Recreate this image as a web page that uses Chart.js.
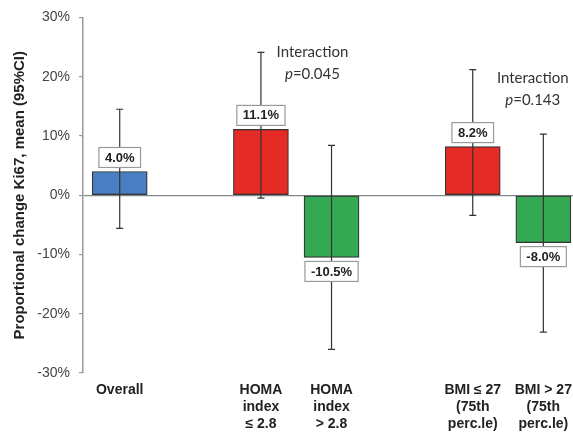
<!DOCTYPE html>
<html>
<head>
    <title>Ki67 proportional change</title>
    <script src="https://cdn.jsdelivr.net/npm/chart.js"></script>
    <style>
        html, body { margin: 0; padding: 0; background: #fff; }
        #wrap { width: 573px; height: 433px; }
    </style>
</head>
<body>
    <div id="wrap"><canvas id="grafico"></canvas></div>
    <script>
        // Datos
        const categorias = [
            ['Overall'],
            ['HOMA', 'index', '\u2264 2.8'],
            ['HOMA', 'index', '> 2.8'],
            ['BMI \u2264 27', '(75th', 'perc.le)'],
            ['BMI > 27', '(75th', 'perc.le)']
        ];
        const posiciones = [0, 2, 3, 5, 6];
        const medias = [4.0, 11.1, -10.5, 8.2, -8.0];
        const icInferior = [-5.6, -0.5, -26.0, -3.4, -23.1];
        const icSuperior = [14.5, 24.1, 8.4, 21.2, 10.3];
        const ticksY = [-30, -20, -10, 0, 10, 20, 30];
        const colores = ['#4a7ec2', '#e52b25', '#35a853', '#e52b25', '#35a853'];

        // Anotaciones de interacción: [posición x, valor y, p]
        const interacciones = [
            { x: 2.73, y: 24.2, p: '0.045' },
            { x: 5.85, y: 19.8, p: '0.143' }
        ];

        const extras = {
            id: 'extras',
            afterDatasetsDraw(chart) {
                const ctx = chart.ctx;
                const xs = chart.scales.x;
                const ys = chart.scales.y;
                ctx.save();

                // Barras de error
                ctx.strokeStyle = '#333';
                ctx.lineWidth = 1.2;
                medias.forEach((m, i) => {
                    const x = xs.getPixelForValue(posiciones[i]);
                    const y1 = ys.getPixelForValue(icSuperior[i]);
                    const y2 = ys.getPixelForValue(icInferior[i]);
                    ctx.beginPath();
                    ctx.moveTo(x, y1); ctx.lineTo(x, y2);
                    ctx.moveTo(x - 3.5, y1); ctx.lineTo(x + 3.5, y1);
                    ctx.moveTo(x - 3.5, y2); ctx.lineTo(x + 3.5, y2);
                    ctx.stroke();
                });

                // Etiquetas con caja
                ctx.font = 'bold 13px "Liberation Sans", Arial, sans-serif';
                ctx.textAlign = 'center';
                ctx.textBaseline = 'middle';
                medias.forEach((m, i) => {
                    const txt = m.toFixed(1) + '%';
                    const x = xs.getPixelForValue(posiciones[i]);
                    const yb = ys.getPixelForValue(m);
                    const w = ctx.measureText(txt).width + 12;
                    const h = 20;
                    const top = m >= 0 ? yb - 4 - h : yb + 4;
                    ctx.fillStyle = '#fff';
                    ctx.fillRect(x - w / 2, top, w, h);
                    ctx.strokeStyle = '#999';
                    ctx.lineWidth = 1.2;
                    ctx.strokeRect(x - w / 2, top, w, h);
                    ctx.fillStyle = '#222';
                    ctx.fillText(txt, x, top + h / 2 + 0.5);
                });

                // Texto de interacción
                ctx.fillStyle = '#333';
                interacciones.forEach(a => {
                    const x = xs.getPixelForValue(a.x);
                    const y = ys.getPixelForValue(a.y);
                    ctx.font = '15px Lato, "Open Sans", sans-serif';
                    ctx.textAlign = 'center';
                    ctx.fillText('Interaction', x, y);
                    const pTxt = '=' + a.p;
                    const wRest = ctx.measureText(pTxt).width;
                    ctx.font = 'italic 15px Lato, "Open Sans", sans-serif';
                    const wp = ctx.measureText('p').width;
                    const start = x - (wRest + wp) / 2;
                    ctx.textAlign = 'left';
                    ctx.fillText('p', start, y + 22);
                    ctx.font = '15px Lato, "Open Sans", sans-serif';
                    ctx.fillText(pTxt, start + wp, y + 22);
                });
                ctx.restore();
            }
        };

        new Chart(document.getElementById('grafico'), {
            type: 'bar',
            data: {
                datasets: [{
                    data: medias.map((m, i) => ({ x: posiciones[i], y: m })),
                    backgroundColor: colores,
                    borderColor: '#333',
                    borderWidth: 1.2,
                    borderSkipped: false,
                    barThickness: 55
                }]
            },
            options: {
                responsive: true,
                maintainAspectRatio: false,
                animation: false,
                layout: { padding: { top: 17, right: 0, left: 0, bottom: 0 } },
                plugins: {
                    legend: { display: false },
                    tooltip: { enabled: false }
                },
                scales: {
                    x: {
                        type: 'linear',
                        offset: false,
                        min: -0.52,
                        max: 6.42,
                        grid: { display: false, drawTicks: false, offset: false },
                        border: { display: false },
                        afterBuildTicks: axis => {
                            axis.ticks = posiciones.map(v => ({ value: v }));
                        },
                        afterFit: axis => {
                            axis.height = 60;
                            axis.paddingLeft = 0;
                            axis.paddingRight = 0;
                        },
                        ticks: {
                            autoSkip: false,
                            maxRotation: 0,
                            padding: 9,
                            color: '#222',
                            font: { family: '"Liberation Sans", Arial, sans-serif', size: 14, weight: 'bold', lineHeight: 1.2 },
                            callback: value => categorias[posiciones.indexOf(value)]
                        }
                    },
                    y: {
                        min: -30,
                        max: 30,
                        afterBuildTicks: axis => {
                            axis.ticks = ticksY.map(v => ({ value: v }));
                        },
                        afterFit: axis => { axis.width = 83; },
                        grid: {
                            color: c => c.tick && c.tick.value === 0 ? '#888' : 'rgba(0,0,0,0)',
                            tickColor: '#999',
                            tickLength: 4,
                            lineWidth: 1.2
                        },
                        border: { color: '#999', width: 1.5 },
                        ticks: {
                            padding: 9,
                            color: '#444',
                            font: { family: '"Liberation Sans", Arial, sans-serif', size: 14 },
                            callback: v => v + '%'
                        },
                        title: {
                            display: true,
                            text: 'Proportional change Ki67, mean (95%CI)',
                            color: '#222',
                            padding: { top: 11, bottom: 0 },
                            font: { family: '"Liberation Sans", Arial, sans-serif', size: 15, weight: 'bold' }
                        }
                    }
                }
            },
            plugins: [extras]
        });
    </script>
</body>
</html>
